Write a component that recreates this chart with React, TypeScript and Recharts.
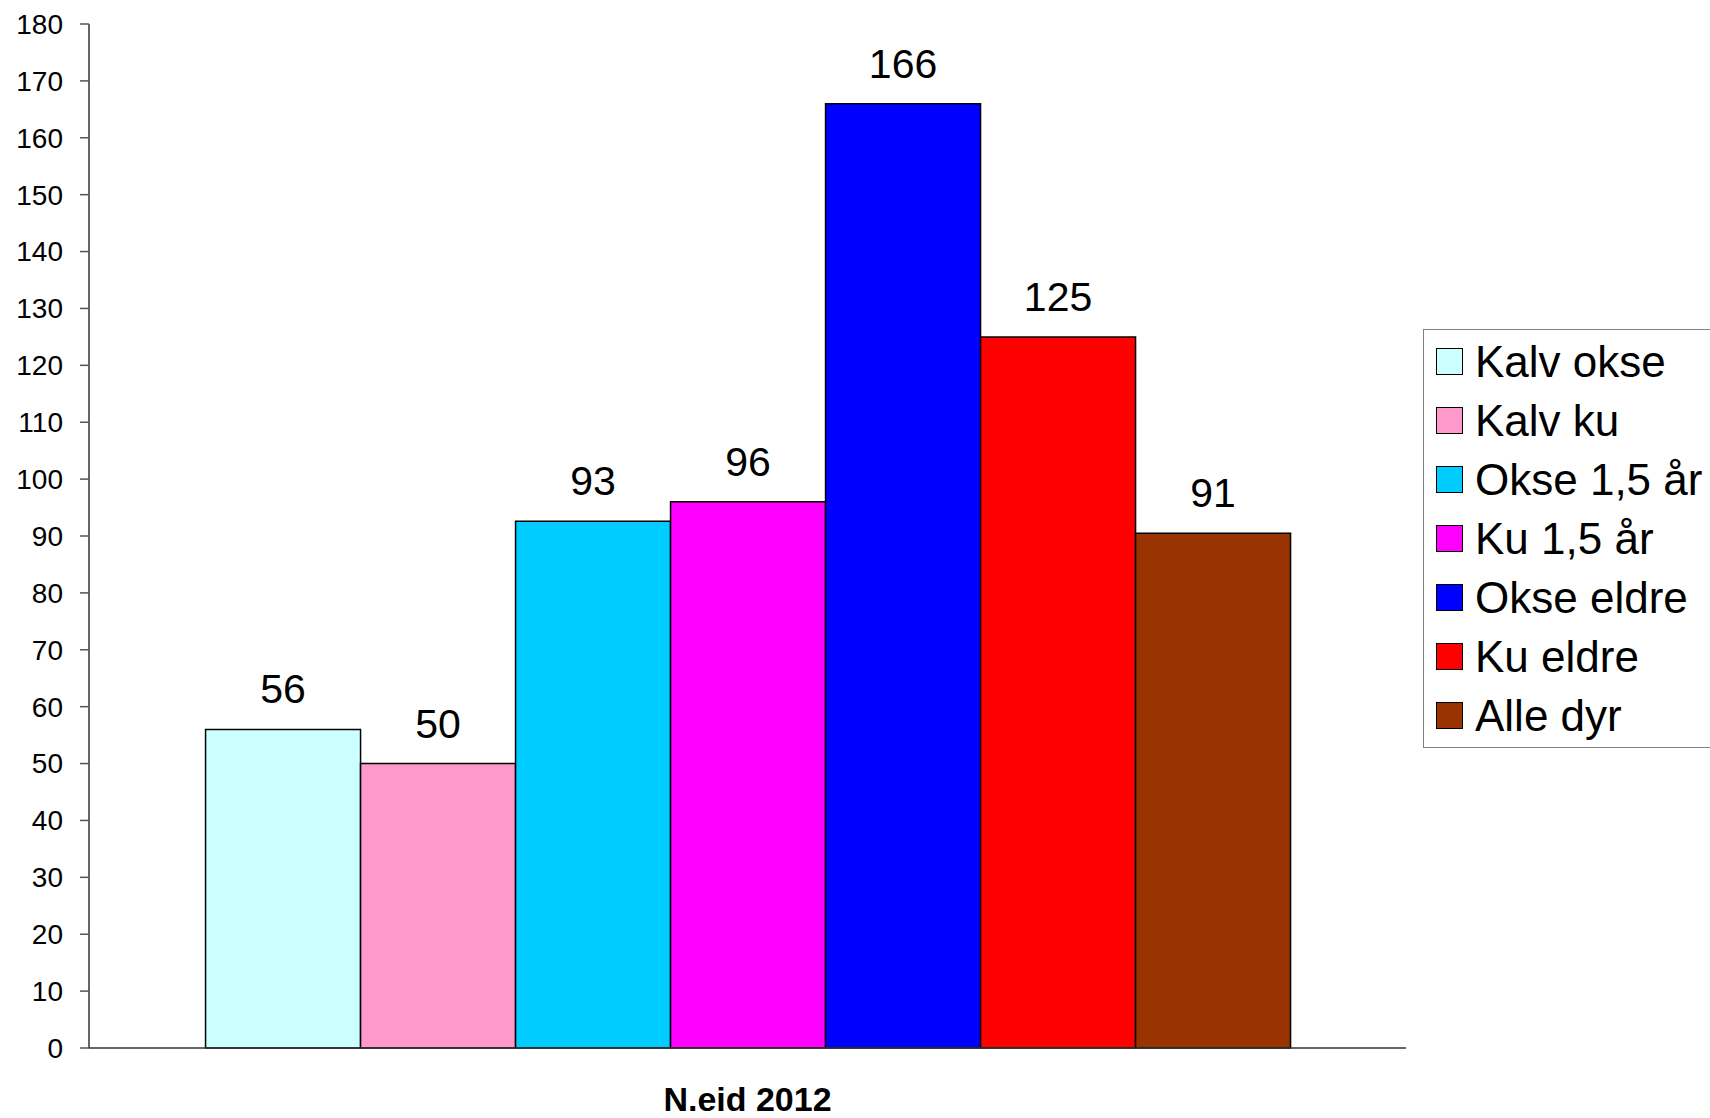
import { BarChart, Bar, XAxis, YAxis, LabelList, Legend } from "recharts";

const categories = ["N.eid 2012"];
const seriesNames = [
  "Kalv okse",
  "Kalv ku",
  "Okse 1,5 år",
  "Ku 1,5 år",
  "Okse eldre",
  "Ku eldre",
  "Alle dyr",
];
const seriesValues = [56, 50, 92.6, 96, 166, 125, 90.5];
const seriesColors = [
  "#CCFFFF",
  "#FF99CC",
  "#00CCFF",
  "#FF00FF",
  "#0000FF",
  "#FF0000",
  "#993300",
];
const yTicks = [0, 10, 20, 30, 40, 50, 60, 70, 80, 90, 100, 110, 120, 130, 140, 150, 160, 170, 180];

const FONT = "Arial, 'Liberation Sans', Helvetica, sans-serif";

const chartData = categories.map((cat) => {
  const row: Record<string, string | number> = { name: cat };
  seriesNames.forEach((s, i) => {
    row[s] = seriesValues[i];
  });
  return row;
});

function LegendBox({ payload }: any) {
  // keep the series order, not the alphabetical one
  const items = [...(payload || [])].sort(
    (a: any, b: any) => seriesNames.indexOf(a.value) - seriesNames.indexOf(b.value)
  );
  return (
    <div
      style={{
        border: "1.5px solid #808080",
        background: "#fff",
        width: 320,
        padding: "2px 0 2px 12px",
        boxSizing: "border-box",
        fontFamily: FONT,
      }}
    >
      {items.map((p: any) => (
        <div
          key={p.value}
          style={{ display: "flex", alignItems: "center", height: 59 }}
        >
          <span
            style={{
              display: "inline-block",
              width: 25,
              height: 25,
              background: p.color,
              border: "1.5px solid #000",
              marginRight: 12,
            }}
          />
          <span style={{ fontSize: 44, color: "#000", lineHeight: "59px" }}>
            {p.value}
          </span>
        </div>
      ))}
    </div>
  );
}

export default function App() {
  return (
    <div style={{ position: "absolute", left: 0, top: 0, fontFamily: FONT }}>
      <BarChart
        width={1710}
        height={1118}
        data={chartData}
        margin={{ top: 24, right: 304, bottom: 0, left: 0 }}
        barCategoryGap="8.85%"
        barGap={0}
      >
        <XAxis
          dataKey="name"
          height={70}
          axisLine={{ stroke: "#333", strokeWidth: 1.5 }}
          tickLine={false}
          tick={{ fontSize: 34, fontWeight: "bold", fill: "#000", fontFamily: FONT }}
          tickMargin={33}
        />
        <XAxis
          xAxisId="top"
          orientation="top"
          height={0}
          tick={false}
          tickLine={false}
          axisLine={{ stroke: "#999", strokeWidth: 2 }}
        />
        <YAxis
          width={89}
          domain={[0, 180]}
          ticks={yTicks}
          interval={0}
          tickSize={9}
          tickMargin={17}
          axisLine={{ stroke: "#333", strokeWidth: 1.5 }}
          tickLine={{ stroke: "#555", strokeWidth: 1.5 }}
          tick={{ fontSize: 28, fill: "#000", fontFamily: FONT }}
        />
        <YAxis
          yAxisId="right"
          orientation="right"
          width={0}
          domain={[0, 180]}
          tick={false}
          tickLine={false}
          axisLine={{ stroke: "#999", strokeWidth: 2 }}
        />
        <Legend
          layout="horizontal"
          verticalAlign="middle"
          align="center"
          content={<LegendBox />}
          wrapperStyle={{ left: 1423, top: 329, width: 320 }}
        />
        {seriesNames.map((s, i) => (
          <Bar
            key={s}
            dataKey={s}
            name={s}
            fill={seriesColors[i]}
            stroke="#000"
            strokeWidth={1.5}
            isAnimationActive={false}
          >
            <LabelList
              dataKey={s}
              position="top"
              offset={26}
              formatter={(v: any) => Math.round(Number(v))}
              style={{ fontSize: 41, fill: "#000", fontFamily: FONT }}
            />
          </Bar>
        ))}
      </BarChart>
    </div>
  );
}
